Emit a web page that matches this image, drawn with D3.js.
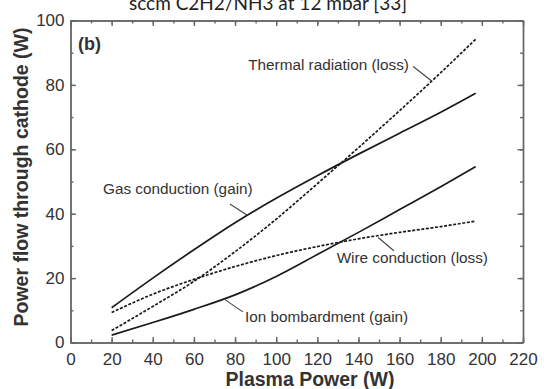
<!DOCTYPE html>
<html>
<head>
<meta charset="utf-8">
<script src="https://cdn.jsdelivr.net/npm/d3@7"></script>
<style>
  body { margin: 0; background: #fff; }
  svg { display: block; }
</style>
</head>
<body>
<div class="chart"></div>
<script>
// values (W)
const plasmaPower = [20, 40, 60, 80, 100, 120, 140, 160, 180, 197];
const gasConduction = [10.8, 20.0, 28.8, 37.2, 44.8, 51.8, 58.5, 65.0, 71.5, 77.4];
const thermalRadiation = [3.7, 11.2, 19.0, 28.2, 38.3, 49.3, 60.5, 72.0, 83.8, 94.2];
const wireConduction = [9.3, 15.0, 19.6, 23.6, 27.0, 29.8, 32.2, 34.2, 36.0, 37.7];
const ionBombardment = [2.3, 6.2, 10.3, 14.8, 20.5, 27.3, 34.2, 41.3, 48.4, 54.6];

const seriesNames = ["Gas conduction (gain)", "Thermal radiation (loss)", "Wire conduction (loss)", "Ion bombardment (gain)"];
const xTicks = [0, 20, 40, 60, 80, 100, 120, 140, 160, 180, 200, 220];
const yTicks = [0, 20, 40, 60, 80, 100];

const plotData = function() {
    const svgwidth = 544, svgheight = 389;
    const svg = d3.select(".chart").append("svg")
        .attr("width", svgwidth)
        .attr("height", svgheight);

    const posX = d3.scaleLinear().domain([0, 220]).range([70.5, 523]);
    const posY = d3.scaleLinear().domain([0, 100]).range([342.5, 20.5]);

    const frameCol = "#666";
    const txtCol = "#333";

    // title (cut off at the top of the picture)
    svg.append("text")
        .attr("x", 268).attr("y", 10)
        .attr("text-anchor", "middle")
        .attr("font-family", "Lato, 'Open Sans', sans-serif")
        .attr("font-size", "19px")
        .attr("fill", "#222")
        .text("sccm C2H2/NH3 at 12 mbar [33]");

    // curves
    const series = [
        {name: seriesNames[0], vals: gasConduction, dash: null},
        {name: seriesNames[1], vals: thermalRadiation, dash: "3,1.6"},
        {name: seriesNames[2], vals: wireConduction, dash: "3,1.6"},
        {name: seriesNames[3], vals: ionBombardment, dash: null}
    ];
    const line = d3.line()
        .x(function(d){ return posX(d[0]); })
        .y(function(d){ return posY(d[1]); })
        .curve(d3.curveMonotoneX);
    svg.selectAll(".curve")
        .data(series)
        .enter().append("path")
        .attr("class", "curve")
        .attr("d", function(s){ return line(plasmaPower.map(function(x, i){ return [x, s.vals[i]]; })); })
        .attr("fill", "none")
        .attr("stroke", "#1a1a1a")
        .attr("stroke-width", 1.7)
        .attr("stroke-dasharray", function(s){ return s.dash; });

    // axes: major + minor ticks pointing inward on all four sides
    const minorX = d3.range(0, 221, 10);
    const minorY = d3.range(0, 101, 10);
    function styleAxis(g) {
        g.selectAll("path, line").attr("stroke", frameCol).attr("stroke-width", 1.4);
        g.selectAll("text").attr("fill", txtCol)
            .attr("font-family", "'Liberation Sans', Arial, sans-serif")
            .attr("font-size", "17px");
    }
    svg.append("g").attr("transform", "translate(0," + posY(0) + ")")
        .call(d3.axisBottom(posX).tickValues(minorX).tickSize(-3).tickFormat("").tickSizeOuter(0))
        .call(styleAxis);
    svg.append("g").attr("transform", "translate(0," + posY(0) + ")")
        .call(d3.axisBottom(posX).tickValues(xTicks).tickSize(-5.5).tickPadding(10).tickSizeOuter(0))
        .call(styleAxis);
    svg.append("g").attr("transform", "translate(0," + posY(100) + ")")
        .call(d3.axisTop(posX).tickValues(minorX).tickSize(-3).tickFormat("").tickSizeOuter(0))
        .call(styleAxis);
    svg.append("g").attr("transform", "translate(0," + posY(100) + ")")
        .call(d3.axisTop(posX).tickValues(xTicks).tickSize(-5.5).tickFormat("").tickSizeOuter(0))
        .call(styleAxis);
    svg.append("g").attr("transform", "translate(" + posX(0) + ",0)")
        .call(d3.axisLeft(posY).tickValues(minorY).tickSize(-3).tickFormat("").tickSizeOuter(0))
        .call(styleAxis);
    svg.append("g").attr("transform", "translate(" + posX(0) + ",0)")
        .call(d3.axisLeft(posY).tickValues(yTicks).tickSize(-5.5).tickPadding(6).tickSizeOuter(0))
        .call(styleAxis);
    svg.append("g").attr("transform", "translate(" + posX(220) + ",0)")
        .call(d3.axisRight(posY).tickValues(minorY).tickSize(-3).tickFormat("").tickSizeOuter(0))
        .call(styleAxis);
    svg.append("g").attr("transform", "translate(" + posX(220) + ",0)")
        .call(d3.axisRight(posY).tickValues(yTicks).tickSize(-5.5).tickFormat("").tickSizeOuter(0))
        .call(styleAxis);

    // axis titles
    svg.append("text")
        .attr("x", 310).attr("y", 386)
        .attr("text-anchor", "middle")
        .attr("font-family", "'Liberation Sans', Arial, sans-serif")
        .attr("font-weight", "bold").attr("font-size", "19.5px")
        .attr("fill", txtCol)
        .text("Plasma Power (W)");
    svg.append("text")
        .attr("transform", "translate(27.5,177) rotate(-90)")
        .attr("text-anchor", "middle")
        .attr("font-family", "'Liberation Sans', Arial, sans-serif")
        .attr("font-weight", "bold").attr("font-size", "19.5px")
        .attr("fill", txtCol)
        .text("Power flow through cathode (W)");

    // panel letter
    svg.append("text")
        .attr("x", posX(3.6)).attr("y", posY(90.8))
        .attr("font-family", "'Liberation Sans', Arial, sans-serif")
        .attr("font-weight", "bold").attr("font-size", "18px")
        .attr("fill", txtCol)
        .text("(b)");

    // annotations: text anchor and leader line, in data units
    const notes = [
        {text: seriesNames[0], tx: 15.8, ty: 46.0, lead: [[77.5, 43.0], [85.8, 39.6]]},
        {text: seriesNames[1], tx: 86.4, ty: 84.6, lead: [[166.6, 85.7], [175.6, 81.2]]},
        {text: seriesNames[2], tx: 129.4, ty: 24.7, lead: [[157.2, 28.5], [149.6, 32.6]]},
        {text: seriesNames[3], tx: 84.8, ty: 6.4, lead: [[83.8, 9.5], [74.9, 13.4]]}
    ];
    svg.selectAll(".note")
        .data(notes)
        .enter().append("text")
        .attr("class", "note")
        .attr("x", function(d){ return posX(d.tx); })
        .attr("y", function(d){ return posY(d.ty); })
        .attr("font-family", "'Liberation Sans', Arial, sans-serif")
        .attr("font-size", "15.3px")
        .attr("fill", txtCol)
        .text(function(d){ return d.text; });
    svg.selectAll(".leader")
        .data(notes)
        .enter().append("line")
        .attr("class", "leader")
        .attr("x1", function(d){ return posX(d.lead[0][0]); })
        .attr("y1", function(d){ return posY(d.lead[0][1]); })
        .attr("x2", function(d){ return posX(d.lead[1][0]); })
        .attr("y2", function(d){ return posY(d.lead[1][1]); })
        .attr("stroke", "#444")
        .attr("stroke-width", 1.1);
}

plotData();
</script>
</body>
</html>
